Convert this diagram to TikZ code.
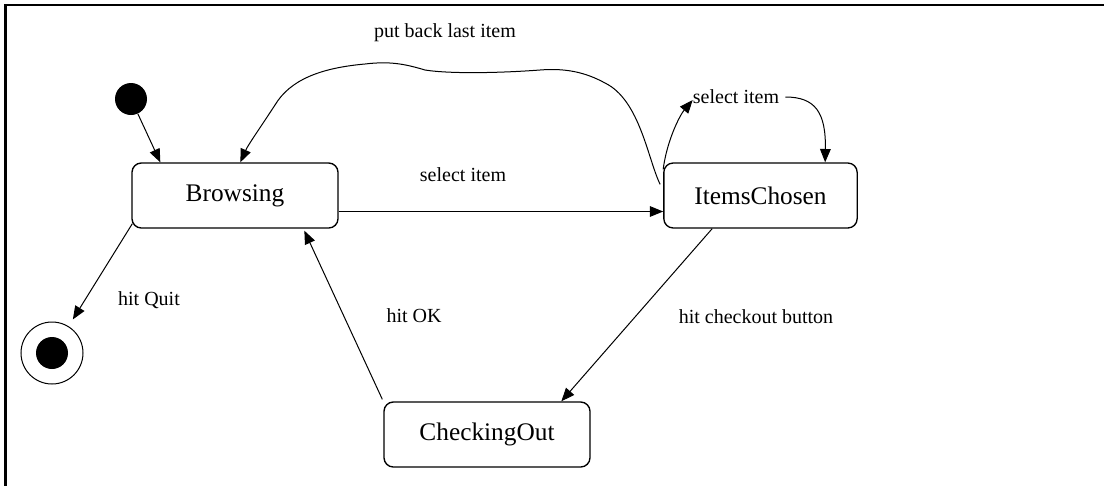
\documentclass[tikz,border=0pt]{standalone}
\usepackage{fontspec}
\setmainfont{Liberation Serif}
\usetikzlibrary{arrows.meta,calc}
\begin{document}
\begin{tikzpicture}[x=0.75pt,y=-0.75pt,
  state/.style={draw, line width=1pt, rounded corners=7pt, minimum height=48.75pt,
                inner sep=0pt, font=\fontsize{19}{22}\selectfont},
  lbl/.style={inner sep=0pt, font=\fontsize{15}{18}\selectfont},
  conn/.style={line width=0.75pt, -{Triangle[length=10pt,width=8pt]}},
  dot/.style={circle, fill, minimum size=24pt, inner sep=0pt},
]
\useasboundingbox (0,0) rectangle (1104,486);
% frame (top and left edges)
\draw[line width=2pt] (1104,5) -- (5.5,5) -- (5.5,486);

% states
\node[state, minimum width=154.5pt] (B) at (235,195.5) {Browsing};
\node[state, minimum width=145pt]   (I) at (760.5,195.5) {ItemsChosen};
\node[state, minimum width=154.5pt] (C) at (487,434.5) {CheckingOut};

% pseudo states
\node[dot] (init) at (131,99) {};
\node[circle, draw, line width=0.75pt, minimum size=46.5pt, inner sep=0pt] (fin) at (52,353) {};
\node[dot] (finDot) at (fin.center) {};

% transition labels
\node[lbl] (lPut)  at (445,33)  {put back last item};
\node[lbl] (lSel)  at (463,175) {select item};
\node[lbl] (lLoop) at (736,97)  {select item};
\node[lbl] (lQuit) at (149,300) {hit Quit};
\node[lbl] (lOK)   at (414,316) {hit OK};
\node[lbl] (lChk)  at (756,317) {hit checkout button};

% transitions
\draw[conn] (init) -- ($(B.north west)+(29,0)$);
\draw[conn] ($(B.east)+(0,16)$) -- ($(I.west)+(0,16)$);
\draw[conn] ($(I.north west)+(-3,22)$)
   .. controls (648,160) and (640,100) .. (605,83)
   .. controls (585,72) and (565,68) .. (540,70)
   .. controls (500,73) and (450,74) .. (425,70)
   .. controls (405,64) and (390,61) .. (365,64)
   .. controls (320,68) and (290,80) .. (275,105)
   .. controls (262,125) and (248,145) .. ($(B.north west)+(109,0)$);
\draw[conn] ($(I.north west)+(0,7)$)
   .. controls (667,140) and (680,115) .. ($(lLoop.west)+(0,3)$);
\draw[conn] ($(lLoop.east)+(6,0)$)
   .. controls (815,97) and (826,112) .. ($(I.north west)+(162,0)$);
\draw[conn] ($(I.south west)+(49,0)$) -- ($(C.north west)+(178,0)$);
\draw[conn] ($(C.north west)+(-1,-2)$) -- ($(B.south west)+(173,2)$);
\draw[conn, shorten >=6pt] ($(B.south west)+(1,-5)$) -- (fin);
\end{tikzpicture}
\end{document}
